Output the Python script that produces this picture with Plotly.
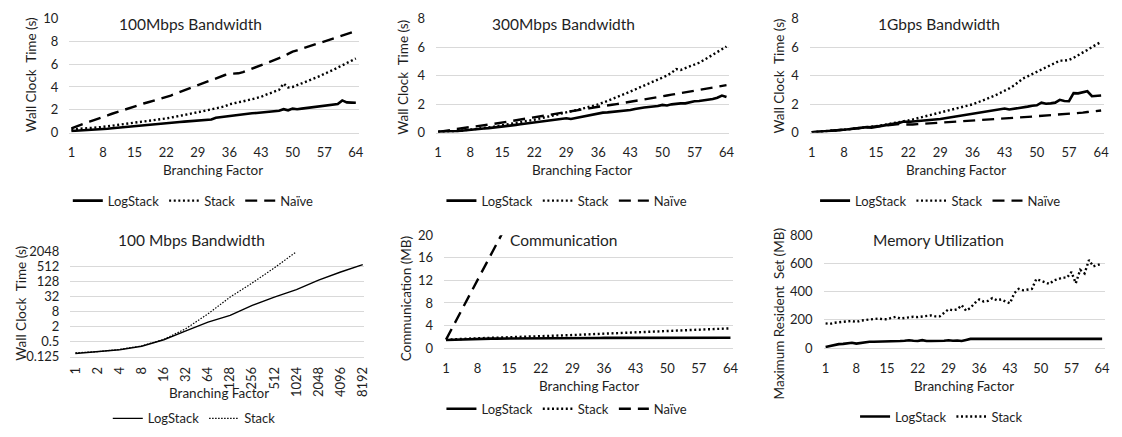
import plotly.graph_objects as go

# ---------------- data ----------------
BF = list(range(1, 65))
BF_TICKS = [1, 8, 15, 22, 29, 36, 43, 50, 57, 64]

# 100 Mbps
LS_100 = [0.14, 0.16, 0.18, 0.2, 0.22, 0.25, 0.28, 0.31,
          0.34, 0.38, 0.42, 0.46, 0.5, 0.54, 0.59, 0.61,
          0.64, 0.68, 0.72, 0.75, 0.79, 0.85, 0.87, 0.9,
          0.93, 0.96, 0.99, 1.02, 1.07, 1.1, 1.12, 1.14,
          1.3, 1.35, 1.42, 1.5, 1.55, 1.58, 1.62, 1.66,
          1.69, 1.72, 1.77, 1.8, 1.84, 1.88, 1.92, 2.05,
          1.95, 2.1, 2.05, 2.1, 2.15, 2.22, 2.28, 2.3,
          2.33, 2.38, 2.43, 2.5, 2.82, 2.65, 2.63, 2.62]
ST_100 = [0.28, 0.3, 0.32, 0.35, 0.38, 0.42, 0.46, 0.5,
          0.55, 0.6, 0.64, 0.68, 0.73, 0.79, 0.85, 0.9,
          0.95, 1.0, 1.06, 1.11, 1.17, 1.24, 1.31, 1.38,
          1.45, 1.52, 1.6, 1.68, 1.77, 1.86, 1.95, 2.04,
          2.12, 2.2, 2.3, 2.48, 2.55, 2.64, 2.74, 2.83,
          2.92, 3.02, 3.13, 3.3, 3.45, 3.6, 3.75, 4.3,
          3.95, 4.0, 4.15, 4.3, 4.45, 4.6, 4.8, 4.95,
          5.15, 5.3, 5.5, 5.7, 5.9, 6.1, 6.3, 6.5]
NV_100 = [0.37, 0.5, 0.65, 0.8, 0.95, 1.1, 1.22, 1.35,
          1.5, 1.65, 1.78, 1.9, 2.05, 2.2, 2.34, 2.45,
          2.55, 2.66, 2.77, 2.88, 3.0, 3.1, 3.25, 3.4,
          3.55, 3.7, 3.85, 4.0, 4.17, 4.32, 4.48, 4.62,
          4.78, 4.92, 5.05, 5.15, 5.15, 5.2, 5.3, 5.45,
          5.6, 5.73, 5.86, 6.02, 6.18, 6.35, 6.52, 6.68,
          6.9, 7.1, 7.22, 7.35, 7.48, 7.6, 7.72, 7.88,
          8.03, 8.15, 8.28, 8.42, 8.55, 8.67, 8.78, 8.9]

# 300 Mbps
LS_300 = [0.05, 0.05, 0.06, 0.07, 0.1, 0.13, 0.17, 0.2,
          0.23, 0.26, 0.29, 0.31, 0.34, 0.37, 0.4, 0.45,
          0.5, 0.54, 0.58, 0.62, 0.66, 0.7, 0.74, 0.78,
          0.82, 0.85, 0.88, 0.93, 1.0, 0.95, 1.02, 1.08,
          1.14, 1.18, 1.25, 1.37, 1.4, 1.42, 1.45, 1.48,
          1.5, 1.54, 1.58, 1.65, 1.72, 1.76, 1.8, 1.82,
          1.86, 1.94, 1.9, 1.98, 2.03, 2.05, 2.05, 2.15,
          2.2, 2.22, 2.25, 2.3, 2.35, 2.45, 2.6, 2.5]
ST_300 = [0.05, 0.05, 0.06, 0.08, 0.1, 0.13, 0.16, 0.2,
          0.24, 0.28, 0.32, 0.36, 0.4, 0.45, 0.5, 0.55,
          0.6, 0.65, 0.7, 0.75, 0.82, 0.9, 0.97, 1.04,
          1.1, 1.17, 1.24, 1.32, 1.4, 1.48, 1.56, 1.64,
          1.72, 1.8, 1.88, 1.98, 2.1, 2.22, 2.35, 2.48,
          2.6, 2.74, 2.88, 3.02, 3.16, 3.3, 3.44, 3.56,
          3.7, 3.83, 4.0, 4.2, 4.46, 4.4, 4.52, 4.62,
          4.73, 4.9, 5.08, 5.26, 5.45, 5.64, 5.84, 6.04]
NV_300 = [0.05, 0.08, 0.12, 0.18, 0.25, 0.3, 0.35, 0.4,
          0.44, 0.48, 0.52, 0.56, 0.6, 0.65, 0.7, 0.76,
          0.82, 0.88, 0.94, 1.0, 1.05, 1.1, 1.15, 1.2,
          1.25, 1.3, 1.35, 1.4, 1.45, 1.5, 1.55, 1.6,
          1.65, 1.7, 1.76, 1.82, 1.86, 1.9, 1.95, 2.0,
          2.05, 2.1, 2.15, 2.2, 2.26, 2.32, 2.38, 2.44,
          2.5, 2.55, 2.6, 2.66, 2.72, 2.78, 2.84, 2.9,
          2.95, 3.0, 3.06, 3.12, 3.18, 3.24, 3.3, 3.33]

# 1 Gbps
LS_1G = [0.02, 0.04, 0.06, 0.08, 0.1, 0.12, 0.15, 0.2,
         0.23, 0.26, 0.29, 0.32, 0.38, 0.35, 0.4, 0.45,
         0.5, 0.55, 0.6, 0.68, 0.78, 0.75, 0.78, 0.8,
         0.83, 0.86, 0.88, 0.9, 0.95, 1.0, 1.05, 1.1,
         1.15, 1.2, 1.25, 1.3, 1.35, 1.4, 1.45, 1.5,
         1.55, 1.6, 1.69, 1.62, 1.66, 1.7, 1.75, 1.82,
         1.88, 1.91, 2.1, 2.02, 2.05, 2.1, 2.3, 2.22,
         2.2, 2.77, 2.75, 2.84, 2.9, 2.55, 2.55, 2.6]
ST_1G = [0.02, 0.04, 0.06, 0.08, 0.1, 0.13, 0.16, 0.2,
         0.23, 0.26, 0.3, 0.34, 0.38, 0.41, 0.45, 0.5,
         0.55, 0.6, 0.66, 0.72, 0.78, 0.85, 0.92, 1.0,
         1.08, 1.16, 1.24, 1.33, 1.42, 1.5, 1.58, 1.66,
         1.74, 1.82, 1.9, 1.98, 2.1, 2.22, 2.35, 2.48,
         2.62, 2.78, 2.93, 3.1, 3.3, 3.55, 3.8, 3.95,
         4.1, 4.3, 4.45, 4.6, 4.75, 4.9, 5.05, 5.05,
         5.1, 5.25, 5.42, 5.6, 5.8, 6.0, 6.2, 6.37]
NV_1G = [0.02, 0.04, 0.06, 0.08, 0.1, 0.12, 0.15, 0.2,
         0.23, 0.26, 0.29, 0.32, 0.35, 0.37, 0.4, 0.44,
         0.48, 0.52, 0.56, 0.6, 0.56, 0.55, 0.57, 0.59,
         0.61, 0.63, 0.65, 0.67, 0.7, 0.72, 0.74, 0.76,
         0.78, 0.8, 0.82, 0.85, 0.86, 0.88, 0.9, 0.91,
         0.92, 0.94, 0.95, 0.98, 1.01, 1.04, 1.07, 1.1,
         1.12, 1.15, 1.17, 1.19, 1.21, 1.23, 1.25, 1.28,
         1.3, 1.33, 1.36, 1.4, 1.44, 1.48, 1.52, 1.55]

# 100 Mbps, large branching factors (log scale)
BF_LOG = ["1", "2", "4", "8", "16", "32", "64", "128", "256", "512",
          "1024", "2048", "4096", "8192"]
LS_LOG = [0.168, 0.196, 0.24, 0.33, 0.6, 1.37, 3.05, 5.7, 14.4, 31,
          62, 148, 315, 622]
ST_LOG = [0.18, 0.2, 0.245, 0.34, 0.62, 1.68, 6.6, 31, 114, 462, 2048]
LOG_TICKS = [0.125, 0.5, 2, 8, 32, 128, 512, 2048]
LOG_TICKTEXT = ["0.125", "0.5", "2", "8", "32", "128", "512", "2048"]

# Communication (MB)
LS_COMM = [1.42, 1.45, 1.48, 1.5, 1.6, 1.62, 1.64, 1.65,
           1.66, 1.66, 1.67, 1.67, 1.67, 1.68, 1.68, 1.68,
           1.68, 1.69, 1.69, 1.69, 1.7, 1.7, 1.7, 1.7,
           1.7, 1.71, 1.71, 1.71, 1.71, 1.72, 1.72, 1.72,
           1.8, 1.8, 1.8, 1.81, 1.81, 1.81, 1.81, 1.81,
           1.82, 1.82, 1.82, 1.82, 1.82, 1.82, 1.82, 1.82,
           1.82, 1.82, 1.82, 1.82, 1.82, 1.82, 1.82, 1.82,
           1.83, 1.83, 1.83, 1.83, 1.83, 1.83, 1.83, 1.83]
ST_COMM = [1.5, 1.55, 1.58, 1.62, 1.65, 1.68, 1.71, 1.74,
           1.76, 1.78, 1.8, 1.82, 1.85, 1.88, 1.9, 1.93,
           1.96, 1.99, 2.02, 2.05, 2.08, 2.1, 2.13, 2.16,
           2.19, 2.22, 2.25, 2.28, 2.31, 2.35, 2.38, 2.42,
           2.45, 2.48, 2.52, 2.56, 2.59, 2.62, 2.65, 2.68,
           2.72, 2.75, 2.78, 2.81, 2.84, 2.88, 2.91, 2.94,
           2.97, 3.0, 3.04, 3.07, 3.1, 3.13, 3.16, 3.2,
           3.23, 3.26, 3.29, 3.32, 3.36, 3.4, 3.44, 3.5]
NV_COMM = [1.5, 3.0, 4.5, 6.0, 7.6, 9.1, 10.6, 12.1, 13.6, 15.2, 16.7,
           18.2, 19.7, 21.2]

# Memory (MB)
ST_MEM = [175, 172, 180, 185, 188, 190, 192, 185,
          195, 200, 200, 205, 210, 205, 205, 215,
          222, 210, 215, 215, 222, 220, 225, 228,
          232, 225, 225, 250, 275, 268, 275, 305,
          265, 285, 320, 345, 330, 335, 355, 340,
          345, 330, 318, 390, 420, 410, 415, 420,
          490, 480, 465, 455, 480, 490, 500, 500,
          540, 460, 555, 530, 625, 580, 590, 600]
LS_MEM = [8, 15, 22, 28, 30, 35, 38, 32,
          38, 40, 45, 45, 45, 45, 46, 46,
          50, 50, 52, 56, 52, 50, 56, 50,
          50, 50, 50, 52, 56, 52, 54, 50,
          58, 65, 65, 65, 65, 65, 65, 65,
          65, 65, 65, 65, 65, 65, 65, 65,
          65, 65, 65, 65, 65, 65, 65, 65,
          65, 65, 65, 65, 65, 65, 65, 65]

# ---------------- styling ----------------
W, H = 1122, 437
FONT = "Lato"
TXT = "#1e1e1e"
GRID = "#d9d9d9"
NB = "\u00a0"


def fx(p):
    return p / W


def fy(p):
    return 1 - p / H


SOLID = dict(color="black", width=2.6)
DOTTED = dict(color="black", width=2.4, dash="2px,2.6px")
DASHED = dict(color="black", width=2.4, dash="12px,7px")
THIN_SOLID = dict(color="black", width=1.4)
THIN_DOT = dict(color="black", width=1.2, dash="1.5px,1.5px")

fig = go.Figure()

# panel geometry in pixels: plot area left/right, first/last category px, top/bottom
panels = [
    dict(n=1, L=66, R=358, c0=68, c1=355, T=11, B=129.3),
    dict(n=2, L=436, R=732, c0=438, c1=729, T=11, B=129.3),
    dict(n=3, L=813, R=1110, c0=815, c1=1107, T=11, B=129.3),
    dict(n=4, L=67, R=363, c0=72, c1=362, T=253, B=362),
    dict(n=5, L=444, R=736, c0=446, c1=733, T=236, B=353),
    dict(n=6, L=827, R=1111, c0=829, c1=1108, T=236, B=353),
]


def xrange_for(p, v0, v1):
    step = (p["c1"] - p["c0"]) / (v1 - v0)
    return [v0 - (p["c0"] - p["L"]) / step, v1 + (p["R"] - p["c1"]) / step]


def add(n, x, y, name, line, legend):
    fig.add_trace(go.Scatter(
        x=x, y=y, name=name, mode="lines", line=line,
        xaxis="x" if n == 1 else f"x{n}", yaxis="y" if n == 1 else f"y{n}",
        legend=legend))


add(1, BF, LS_100, "LogStack", SOLID, "legend")
add(1, BF, ST_100, "Stack", DOTTED, "legend")
add(1, BF, NV_100, "Naïve", DASHED, "legend")
add(2, BF, LS_300, "LogStack", SOLID, "legend2")
add(2, BF, ST_300, "Stack", DOTTED, "legend2")
add(2, BF, NV_300, "Naïve", DASHED, "legend2")
add(3, BF, LS_1G, "LogStack", SOLID, "legend3")
add(3, BF, ST_1G, "Stack", DOTTED, "legend3")
add(3, BF, NV_1G, "Naïve", DASHED, "legend3")
idx = list(range(len(BF_LOG)))
add(4, idx, LS_LOG, "LogStack", THIN_SOLID, "legend4")
add(4, idx[:len(ST_LOG)], ST_LOG, "Stack", THIN_DOT, "legend4")
add(5, BF, LS_COMM, "LogStack", SOLID, "legend5")
add(5, BF, ST_COMM, "Stack", DOTTED, "legend5")
add(5, BF[:len(NV_COMM)], NV_COMM, "Naïve", DASHED, "legend5")
add(6, BF, LS_MEM, "LogStack", SOLID, "legend6")
add(6, BF, ST_MEM, "Stack", DOTTED, "legend6")

tickfont = dict(family=FONT, size=13, color=TXT)
layout = dict(
    width=W, height=H, margin=dict(l=0, r=0, t=0, b=0),
    paper_bgcolor="white", plot_bgcolor="white",
    font=dict(family=FONT, color=TXT),
    showlegend=True,
)

yconf = {
    1: dict(range=[0, 10], tickvals=[0, 2, 4, 6, 8, 10]),
    2: dict(range=[0, 8], tickvals=[0, 2, 4, 6, 8]),
    3: dict(range=[0, 8], tickvals=[0, 2, 4, 6, 8]),
    4: dict(type="log", range=[-0.90309, 3.31133], tickvals=LOG_TICKS,
            ticktext=LOG_TICKTEXT),
    5: dict(range=[0, 20], tickvals=[0, 4, 8, 12, 16, 20]),
    6: dict(range=[0, 800], tickvals=[0, 200, 400, 600, 800]),
}

for p in panels:
    n = p["n"]
    xs = "xaxis" if n == 1 else f"xaxis{n}"
    ys = "yaxis" if n == 1 else f"yaxis{n}"
    xa = "x" if n == 1 else f"x{n}"
    ya = "y" if n == 1 else f"y{n}"
    if n == 4:
        xr = xrange_for(p, 0, len(BF_LOG) - 1)
        xextra = dict(tickvals=idx, ticktext=BF_LOG, tickangle=-90,
                      ticklabelstandoff=4)
    else:
        xr = xrange_for(p, 1, 64)
        xextra = dict(tickvals=BF_TICKS, ticklabelstandoff=8)
    layout[xs] = dict(domain=[fx(p["L"]), fx(p["R"])], range=xr, anchor=ya,
                      showgrid=False, zeroline=False, showline=True,
                      linecolor=GRID, linewidth=1, ticks="",
                      tickfont=tickfont, **xextra)
    layout[ys] = dict(domain=[fy(p["B"]), fy(p["T"])], anchor=xa,
                      showgrid=True, gridcolor=GRID, gridwidth=1,
                      zeroline=False, showline=False, ticks="",
                      tickfont=tickfont, ticklabelstandoff=10,
                      **yconf[n])

# legends
leg_pos = {1: (191, 200), 2: (568, 200), 3: (945, 200),
           4: (192, 426), 5: (568, 416), 6: (946, 424)}
for n, (lx, ly) in leg_pos.items():
    key = "legend" if n == 1 else f"legend{n}"
    layout[key] = dict(orientation="h", x=fx(lx), y=fy(ly),
                       xanchor="center", yanchor="middle",
                       bgcolor="rgba(0,0,0,0)", borderwidth=0,
                       font=dict(family=FONT, size=13, color=TXT),
                       itemwidth=30, tracegroupgap=0)

fig.update_layout(**layout)

# titles and axis titles
titles = [
    ("100Mbps Bandwidth", 188, 17), ("300Mbps Bandwidth", 565, 17),
    ("1Gbps Bandwidth", 943, 17), ("100 Mbps Bandwidth", 189, 241),
    ("Communication", 565, 241), ("Memory Utilization", 943, 241),
]
for t, x, y in titles:
    fig.add_annotation(text=t, x=fx(x), y=fy(y), xref="paper", yref="paper",
                       showarrow=False, xanchor="center", yanchor="middle",
                       font=dict(family=FONT, size=15.5, color=TXT))

xtitles = [(211, 168), (583, 168), (961, 168), (217, 400), (590, 392), (969, 392)]
for x, y in xtitles:
    fig.add_annotation(text="Branching Factor", x=fx(x), y=fy(y),
                       xref="paper", yref="paper", showarrow=False,
                       xanchor="center", yanchor="middle",
                       font=dict(family=FONT, size=13.5, color=TXT))

WCT = "Wall Clock" + NB + " Time (s)"
ytitles = [(WCT, 28, 69), (WCT, 403, 72), (WCT, 782, 71), (WCT, 17, 306),
           ("Communication (MB)", 406, 301),
           ("Maximum Resident" + NB + " Set (MB)", 782, 318)]
for t, x, y in ytitles:
    fig.add_annotation(text=t, x=fx(x), y=fy(y), xref="paper", yref="paper",
                       showarrow=False, xanchor="center", yanchor="middle",
                       textangle=-90,
                       font=dict(family=FONT, size=13.5, color=TXT))

fig.write_html("out.html",
               config={"displayModeBar": False},
               post_script="document.body.style.margin='0';"
                           "document.body.style.overflow='hidden';")
